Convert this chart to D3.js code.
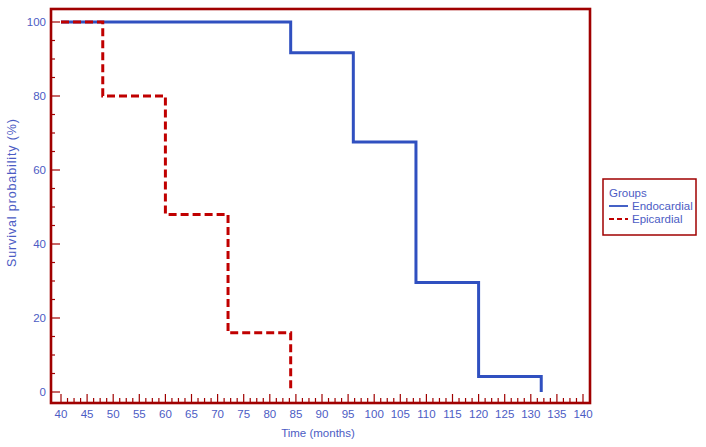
<!DOCTYPE html>
<html><head><meta charset="utf-8">
<script src="https://cdn.jsdelivr.net/npm/d3@7"></script>
<style>body{margin:0;background:#fff}svg{display:block}text{font-family:"Liberation Sans",Arial,sans-serif}</style>
</head><body><svg id="c" width="706" height="447"></svg>
<script>
const endoTimes = [40, 84, 96, 108, 120, 132];
const endoSurv  = [100, 91.7, 67.6, 29.6, 4.2, 0];
const epiTimes  = [40, 48, 60, 72, 84];
const epiSurv   = [100, 80, 48, 16, 0];
const xTickLabels = [40,45,50,55,60,65,70,75,80,85,90,95,100,105,110,115,120,125,130,135,140];
const yTickLabels = [0,20,40,60,80,100];
const groupNames = ["Endocardial","Epicardial"];

const frameCol = "#a00000", textCol = "#4c5cc4", blue = "#3050c0", red = "#c00000";
const svg = d3.select("#c");
const x = d3.scaleLinear().domain([40,140]).range([61,583]);
const y = d3.scaleLinear().domain([0,100]).range([392,22]);
const L = 51, R = 590, T = 9, B = 403;

// frame
svg.append("rect").attr("x",L).attr("y",T).attr("width",R-L).attr("height",B-T)
  .attr("fill","none").attr("stroke",frameCol).attr("stroke-width",2.6);

// x ticks (minor every 1.25)
const xt = d3.range(0, 81).map(i => 40 + i*1.25);
svg.append("g").selectAll("line").data(xt).join("line")
  .attr("x1",d=>x(d)).attr("x2",d=>x(d)).attr("y1",B)
  .attr("y2",d=> (Math.abs(d%5)<1e-9) ? B-9 : B-5)
  .attr("stroke",frameCol).attr("stroke-width",1.2);
svg.append("g").selectAll("text").data(xTickLabels).join("text")
  .attr("x",d=>x(d)).attr("y",418).attr("text-anchor","middle")
  .attr("font-size",11.5).attr("fill",textCol).text(d=>d);

// y ticks (minor every 5)
const yt = d3.range(0, 101, 5);
svg.append("g").selectAll("line").data(yt).join("line")
  .attr("y1",d=>y(d)).attr("y2",d=>y(d)).attr("x1",L)
  .attr("x2",d=> d%20===0 ? L+9 : L+4)
  .attr("stroke",frameCol).attr("stroke-width",1.2);
svg.append("g").selectAll("text").data(yTickLabels).join("text")
  .attr("x",46).attr("y",d=>y(d)+4).attr("text-anchor","end")
  .attr("font-size",11.5).attr("fill",textCol).text(d=>d);

// axis titles
svg.append("text").attr("x",318).attr("y",437).attr("text-anchor","middle")
  .attr("font-size",11.5).attr("fill",textCol).text("Time (months)");
svg.append("text").attr("transform","translate(16,193) rotate(-90)").attr("text-anchor","middle")
  .attr("font-size",12.5).attr("textLength",148).attr("lengthAdjust","spacing")
  .attr("fill",textCol).text("Survival probability (%)");

// curves
const line = d3.line().x(d=>x(d[0])).y(d=>y(d[1])).curve(d3.curveStepAfter);
svg.append("path").datum(endoTimes.map((t,i)=>[t,endoSurv[i]])).attr("d",line)
  .attr("fill","none").attr("stroke",blue).attr("stroke-width",3);
svg.append("path").datum(epiTimes.map((t,i)=>[t,epiSurv[i]])).attr("d",line)
  .attr("fill","none").attr("stroke",red).attr("stroke-width",3).attr("stroke-dasharray","8,4");

// legend
const lg = svg.append("g");
lg.append("rect").attr("x",603).attr("y",179).attr("width",93).attr("height",56)
  .attr("fill","#fff").attr("stroke",frameCol).attr("stroke-width",1.5);
lg.append("text").attr("x",609).attr("y",197).attr("font-size",11.5).attr("fill",textCol).text("Groups");
const cols = [blue, red], dashes = [null, "5,3"];
groupNames.forEach((g,i)=>{
  const yy = 210 + i*13;
  lg.append("line").attr("x1",609).attr("x2",628).attr("y1",yy-4).attr("y2",yy-4)
    .attr("stroke",cols[i]).attr("stroke-width",1.8).attr("stroke-dasharray",dashes[i]);
  lg.append("text").attr("x",632).attr("y",yy).attr("font-size",11.5).attr("fill",textCol).text(g);
});
</script></body></html>
